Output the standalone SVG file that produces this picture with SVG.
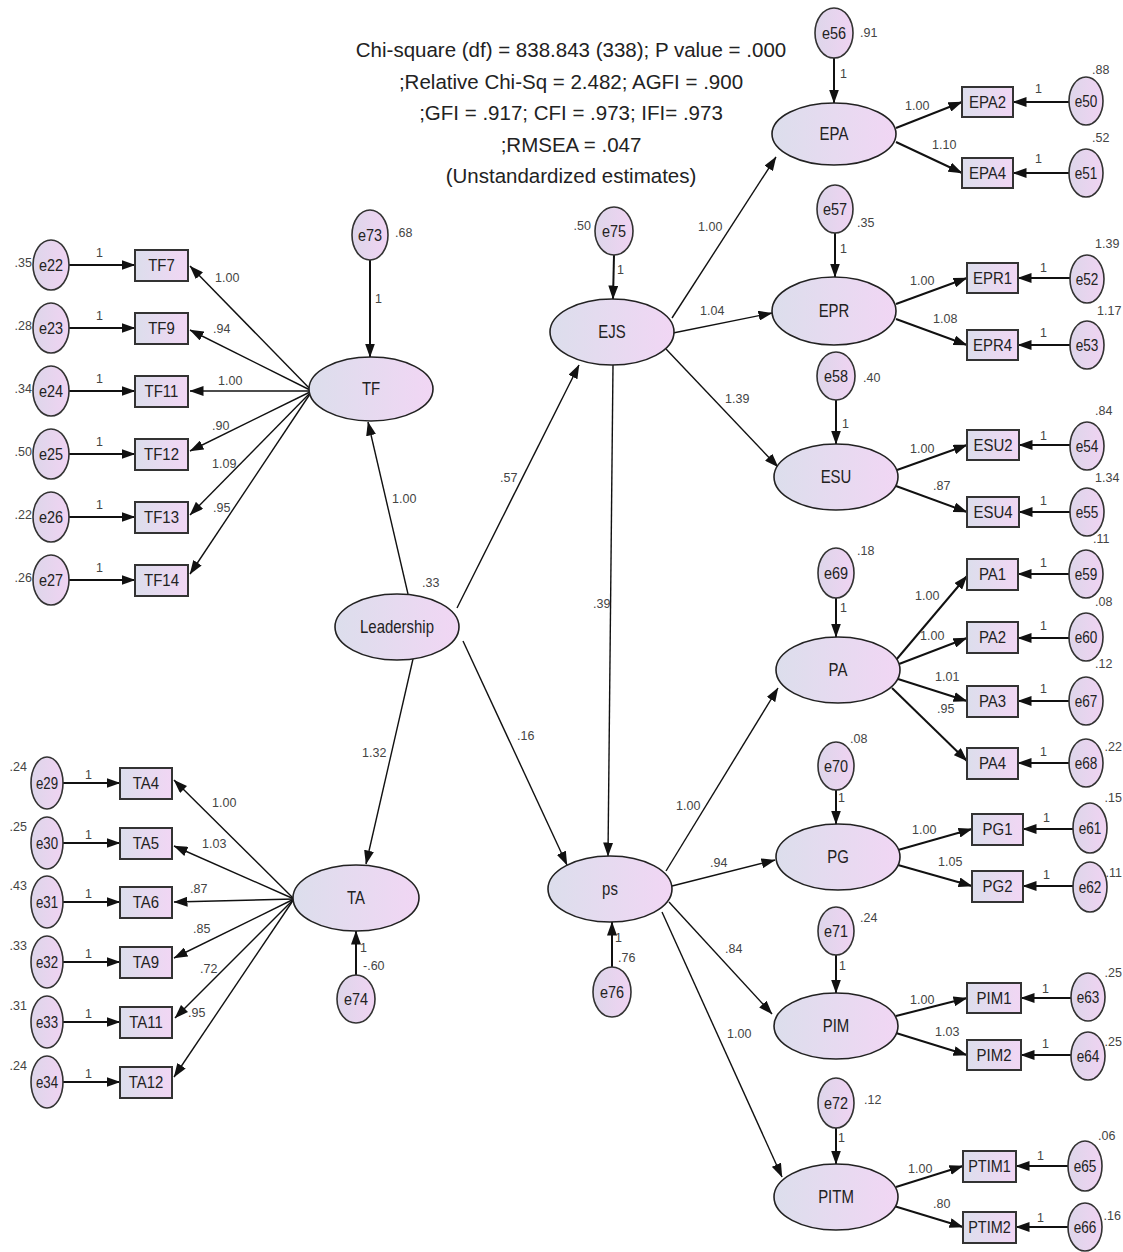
<svg xmlns="http://www.w3.org/2000/svg" width="1123" height="1252" viewBox="0 0 1123 1252">
<defs>
<linearGradient id="g" x1="0" y1="0" x2="1" y2="0">
<stop offset="0" stop-color="#dcdeec"/>
<stop offset="1" stop-color="#f1d6f4"/>
</linearGradient>
<linearGradient id="ge" x1="0" y1="0" x2="1" y2="0">
<stop offset="0" stop-color="#ddd6ea"/>
<stop offset="1" stop-color="#f0d3f2"/>
</linearGradient>
<marker id="ah" markerUnits="userSpaceOnUse" markerWidth="14" markerHeight="10" viewBox="0 0 14 10" refX="13.5" refY="5" orient="auto">
<path d="M0,0 L14,5 L0,10 z" fill="#111"/>
</marker>
<style>
.lat{fill:url(#g);stroke:#222;stroke-width:1.6}
.err{fill:url(#ge);stroke:#333;stroke-width:1.6}
.obs{fill:url(#g);stroke:#333;stroke-width:2}
.nl{font-family:"Liberation Sans",Arial,sans-serif;font-size:18px;text-anchor:middle;fill:#222}
.ol{font-family:"Liberation Sans",Arial,sans-serif;font-size:17px;text-anchor:middle;fill:#222}
.el{font-family:"Liberation Sans",Arial,sans-serif;font-size:17px;text-anchor:middle;fill:#222}
.sl{font-family:"Liberation Sans",Arial,sans-serif;font-size:12.5px;fill:#444}
.sle{font-family:"Liberation Sans",Arial,sans-serif;font-size:12.5px;fill:#444;text-anchor:end}
.tt{font-family:"Liberation Sans",Arial,sans-serif;font-size:20.5px;text-anchor:middle;fill:#222}
.c{stroke:#111;stroke-width:1.4;fill:none;marker-end:url(#ah)}
.ce{stroke:#111;stroke-width:2;fill:none;marker-end:url(#ah)}
</style>
</defs>
<rect width="1123" height="1252" fill="#ffffff"/>

<g id="title">
<text class="tt" x="571" y="57">Chi-square (df) = 838.843 (338);  P value = .000</text>
<text class="tt" x="571" y="88.5">;Relative Chi-Sq = 2.482; AGFI = .900</text>
<text class="tt" x="571" y="120">;GFI = .917; CFI = .973; IFI= .973</text>
<text class="tt" x="571" y="151.5">;RMSEA = .047</text>
<text class="tt" x="571" y="183">(Unstandardized estimates)</text>
</g>

<g id="connectors">
<!-- structural -->
<line class="c" x1="408" y1="594" x2="368" y2="422"/>
<line class="c" x1="457" y1="608" x2="579" y2="365"/>
<line class="c" x1="413" y1="659" x2="366" y2="864"/>
<line class="c" x1="463" y1="641" x2="567" y2="865"/>
<line class="c" x1="613" y1="365" x2="608" y2="856"/>
<line class="c" x1="672" y1="318" x2="776" y2="157"/>
<line class="c" x1="673" y1="333" x2="772" y2="313"/>
<line class="c" x1="666" y1="349" x2="778" y2="467"/>
<line class="c" x1="666" y1="871" x2="778" y2="688"/>
<line class="c" x1="672" y1="886" x2="775" y2="860"/>
<line class="c" x1="669" y1="902" x2="772" y2="1014"/>
<line class="c" x1="662" y1="912" x2="782" y2="1177"/>
<!-- disturbances -->
<line class="ce" x1="370" y1="260" x2="370" y2="357"/>
<line class="ce" x1="614" y1="255" x2="613" y2="299"/>
<line class="ce" x1="356" y1="975" x2="356" y2="931"/>
<line class="ce" x1="612" y1="967" x2="612" y2="922"/>
<line class="ce" x1="834" y1="58" x2="834" y2="103"/>
<line class="ce" x1="835" y1="233" x2="835" y2="277"/>
<line class="ce" x1="836" y1="400" x2="836" y2="444"/>
<line class="ce" x1="836" y1="598" x2="836" y2="637"/>
<line class="ce" x1="836" y1="790" x2="836" y2="824"/>
<line class="ce" x1="836" y1="955" x2="836" y2="993"/>
<line class="ce" x1="836" y1="1128" x2="836" y2="1164"/>
<!-- TF loadings -->
<line class="c" x1="312" y1="391" x2="190" y2="266"/>
<line class="c" x1="312" y1="391" x2="190" y2="330"/>
<line class="c" x1="312" y1="391" x2="190" y2="391"/>
<line class="c" x1="312" y1="391" x2="190" y2="451"/>
<line class="c" x1="312" y1="391" x2="190" y2="515"/>
<line class="c" x1="312" y1="391" x2="190" y2="574"/>
<!-- TF errors -->
<line class="ce" x1="69" y1="265" x2="135" y2="265"/>
<line class="ce" x1="69" y1="328" x2="135" y2="328"/>
<line class="ce" x1="69" y1="391" x2="135" y2="391"/>
<line class="ce" x1="69" y1="454" x2="135" y2="454"/>
<line class="ce" x1="69" y1="517" x2="135" y2="517"/>
<line class="ce" x1="69" y1="580" x2="135" y2="580"/>
<!-- TA loadings -->
<line class="c" x1="294" y1="899" x2="174" y2="780"/>
<line class="c" x1="294" y1="899" x2="174" y2="846"/>
<line class="c" x1="294" y1="899" x2="174" y2="902"/>
<line class="c" x1="294" y1="899" x2="174" y2="958"/>
<line class="c" x1="294" y1="899" x2="175" y2="1018"/>
<line class="c" x1="294" y1="899" x2="174" y2="1077"/>
<!-- TA errors -->
<line class="ce" x1="62" y1="783" x2="120" y2="783"/>
<line class="ce" x1="62" y1="843" x2="120" y2="843"/>
<line class="ce" x1="62" y1="902" x2="120" y2="902"/>
<line class="ce" x1="62" y1="962" x2="120" y2="962"/>
<line class="ce" x1="62" y1="1022" x2="120" y2="1022"/>
<line class="ce" x1="62" y1="1082" x2="120" y2="1082"/>
<!-- EPA -->
<line class="ce" x1="896" y1="128" x2="962" y2="102"/>
<line class="ce" x1="896" y1="142" x2="962" y2="173"/>
<line class="ce" x1="1069" y1="102" x2="1013" y2="102"/>
<line class="ce" x1="1069" y1="173" x2="1013" y2="173"/>
<!-- EPR -->
<line class="ce" x1="896" y1="304" x2="967" y2="278"/>
<line class="ce" x1="896" y1="319" x2="967" y2="345"/>
<line class="ce" x1="1070" y1="278" x2="1018" y2="278"/>
<line class="ce" x1="1070" y1="345" x2="1018" y2="345"/>
<!-- ESU -->
<line class="ce" x1="897" y1="470" x2="967" y2="445"/>
<line class="ce" x1="896" y1="486" x2="967" y2="512"/>
<line class="ce" x1="1070" y1="445" x2="1019" y2="445"/>
<line class="ce" x1="1070" y1="512" x2="1019" y2="512"/>
<!-- PA -->
<line class="ce" x1="896" y1="660" x2="967" y2="576"/>
<line class="ce" x1="899" y1="664" x2="967" y2="638"/>
<line class="ce" x1="898" y1="679" x2="967" y2="701"/>
<line class="ce" x1="892" y1="688" x2="967" y2="761"/>
<line class="ce" x1="1069" y1="574" x2="1018" y2="574"/>
<line class="ce" x1="1069" y1="638" x2="1018" y2="638"/>
<line class="ce" x1="1069" y1="701" x2="1018" y2="701"/>
<line class="ce" x1="1069" y1="763" x2="1018" y2="763"/>
<!-- PG -->
<line class="ce" x1="898" y1="850" x2="972" y2="829"/>
<line class="ce" x1="898" y1="865" x2="972" y2="886"/>
<line class="ce" x1="1073" y1="829" x2="1023" y2="829"/>
<line class="ce" x1="1073" y1="886" x2="1023" y2="886"/>
<!-- PIM -->
<line class="ce" x1="896" y1="1016" x2="967" y2="998"/>
<line class="ce" x1="896" y1="1033" x2="967" y2="1055"/>
<line class="ce" x1="1071" y1="998" x2="1021" y2="998"/>
<line class="ce" x1="1071" y1="1055" x2="1021" y2="1055"/>
<!-- PITM -->
<line class="ce" x1="896" y1="1187" x2="963" y2="1166"/>
<line class="ce" x1="894" y1="1206" x2="963" y2="1227"/>
<line class="ce" x1="1068" y1="1166" x2="1016" y2="1166"/>
<line class="ce" x1="1068" y1="1227" x2="1016" y2="1227"/>

<!-- path labels -->
<text class="sl" x="392" y="503">1.00</text>
<text class="sl" x="422" y="587">.33</text>
<text class="sl" x="500" y="482">.57</text>
<text class="sl" x="362" y="757">1.32</text>
<text class="sl" x="517" y="740">.16</text>
<text class="sl" x="593" y="608">.39</text>
<text class="sl" x="698" y="231">1.00</text>
<text class="sl" x="700" y="315">1.04</text>
<text class="sl" x="725" y="403">1.39</text>
<text class="sl" x="676" y="810">1.00</text>
<text class="sl" x="710" y="867">.94</text>
<text class="sl" x="725" y="953">.84</text>
<text class="sl" x="727" y="1038">1.00</text>
<text class="sl" x="375" y="303">1</text>
<text class="sl" x="617" y="274">1</text>
<text class="sl" x="360" y="952">1</text>
<text class="sl" x="363" y="970">-.60</text>
<text class="sl" x="615" y="942">1</text>
<text class="sl" x="618" y="962">.76</text>
<text class="sl" x="840" y="78">1</text>
<text class="sl" x="840" y="253">1</text>
<text class="sl" x="842" y="428">1</text>
<text class="sl" x="840" y="612">1</text>
<text class="sl" x="838" y="802">1</text>
<text class="sl" x="839" y="970">1</text>
<text class="sl" x="838" y="1142">1</text>
<!-- TF loadings labels -->
<text class="sl" x="215" y="282">1.00</text>
<text class="sl" x="213" y="333">.94</text>
<text class="sl" x="218" y="385">1.00</text>
<text class="sl" x="212" y="430">.90</text>
<text class="sl" x="212" y="468">1.09</text>
<text class="sl" x="213" y="512">.95</text>
<text class="sl" x="96" y="257">1</text>
<text class="sl" x="96" y="320">1</text>
<text class="sl" x="96" y="383">1</text>
<text class="sl" x="96" y="446">1</text>
<text class="sl" x="96" y="509">1</text>
<text class="sl" x="96" y="572">1</text>
<!-- TA loadings labels -->
<text class="sl" x="212" y="807">1.00</text>
<text class="sl" x="202" y="848">1.03</text>
<text class="sl" x="190" y="893">.87</text>
<text class="sl" x="193" y="933">.85</text>
<text class="sl" x="200" y="973">.72</text>
<text class="sl" x="188" y="1017">.95</text>
<text class="sl" x="85" y="779">1</text>
<text class="sl" x="85" y="839">1</text>
<text class="sl" x="85" y="898">1</text>
<text class="sl" x="85" y="958">1</text>
<text class="sl" x="85" y="1018">1</text>
<text class="sl" x="85" y="1078">1</text>
<!-- right loadings labels -->
<text class="sl" x="905" y="110">1.00</text>
<text class="sl" x="932" y="149">1.10</text>
<text class="sl" x="910" y="285">1.00</text>
<text class="sl" x="933" y="323">1.08</text>
<text class="sl" x="910" y="453">1.00</text>
<text class="sl" x="933" y="490">.87</text>
<text class="sl" x="915" y="600">1.00</text>
<text class="sl" x="920" y="640">1.00</text>
<text class="sl" x="935" y="681">1.01</text>
<text class="sl" x="937" y="713">.95</text>
<text class="sl" x="912" y="834">1.00</text>
<text class="sl" x="938" y="866">1.05</text>
<text class="sl" x="910" y="1004">1.00</text>
<text class="sl" x="935" y="1036">1.03</text>
<text class="sl" x="908" y="1173">1.00</text>
<text class="sl" x="933" y="1208">.80</text>
<text class="sl" x="1035" y="93">1</text>
<text class="sl" x="1035" y="163">1</text>
<text class="sl" x="1040" y="272">1</text>
<text class="sl" x="1040" y="337">1</text>
<text class="sl" x="1040" y="440">1</text>
<text class="sl" x="1040" y="505">1</text>
<text class="sl" x="1040" y="567">1</text>
<text class="sl" x="1040" y="630">1</text>
<text class="sl" x="1040" y="693">1</text>
<text class="sl" x="1040" y="756">1</text>
<text class="sl" x="1043" y="822">1</text>
<text class="sl" x="1043" y="879">1</text>
<text class="sl" x="1042" y="993">1</text>
<text class="sl" x="1042" y="1048">1</text>
<text class="sl" x="1037" y="1160">1</text>
<text class="sl" x="1037" y="1222">1</text>
</g>

<!-- latent nodes -->
<g id="n-TF"><ellipse class="lat" cx="371" cy="389" rx="62" ry="32"/><text class="nl" transform="translate(371,395) scale(.83,1)">TF</text></g>
<g id="n-Leadership"><ellipse class="lat" cx="397" cy="627" rx="62" ry="33"/><text class="nl" transform="translate(397,633) scale(.83,1)">Leadership</text></g>
<g id="n-TA"><ellipse class="lat" cx="356" cy="898" rx="63" ry="33"/><text class="nl" transform="translate(356,904) scale(.83,1)">TA</text></g>
<g id="n-EJS"><ellipse class="lat" cx="612" cy="332" rx="62" ry="33"/><text class="nl" transform="translate(612,338) scale(.83,1)">EJS</text></g>
<g id="n-ps"><ellipse class="lat" cx="610" cy="889" rx="62" ry="33"/><text class="nl" transform="translate(610,895) scale(.83,1)">ps</text></g>
<g id="n-EPA"><ellipse class="lat" cx="834" cy="134" rx="62" ry="31"/><text class="nl" transform="translate(834,140) scale(.83,1)">EPA</text></g>
<g id="n-EPR"><ellipse class="lat" cx="834" cy="311" rx="62" ry="34"/><text class="nl" transform="translate(834,317) scale(.83,1)">EPR</text></g>
<g id="n-ESU"><ellipse class="lat" cx="836" cy="477" rx="62" ry="33"/><text class="nl" transform="translate(836,483) scale(.83,1)">ESU</text></g>
<g id="n-PA"><ellipse class="lat" cx="838" cy="670" rx="62" ry="33"/><text class="nl" transform="translate(838,676) scale(.83,1)">PA</text></g>
<g id="n-PG"><ellipse class="lat" cx="838" cy="857" rx="62" ry="33"/><text class="nl" transform="translate(838,863) scale(.83,1)">PG</text></g>
<g id="n-PIM"><ellipse class="lat" cx="836" cy="1026" rx="62" ry="33"/><text class="nl" transform="translate(836,1032) scale(.83,1)">PIM</text></g>
<g id="n-PITM"><ellipse class="lat" cx="836" cy="1197" rx="62" ry="33"/><text class="nl" transform="translate(836,1203) scale(.83,1)">PITM</text></g>

<!-- disturbance/error for latents -->
<g id="n-e73"><ellipse class="err" cx="370" cy="235" rx="18" ry="25"/><text class="el" transform="translate(370,241) scale(.85,1)">e73</text><text class="sl" x="395" y="237">.68</text></g>
<g id="n-e75"><ellipse class="err" cx="614" cy="231" rx="19" ry="24"/><text class="el" transform="translate(614,237) scale(.85,1)">e75</text><text class="sle" x="591" y="230">.50</text></g>
<g id="n-e74"><ellipse class="err" cx="356" cy="999" rx="19" ry="24"/><text class="el" transform="translate(356,1005) scale(.85,1)">e74</text></g>
<g id="n-e76"><ellipse class="err" cx="612" cy="992" rx="19" ry="25"/><text class="el" transform="translate(612,998) scale(.85,1)">e76</text></g>
<g id="n-e56"><ellipse class="err" cx="834" cy="33" rx="19" ry="25"/><text class="el" transform="translate(834,39) scale(.85,1)">e56</text><text class="sl" x="860" y="37">.91</text></g>
<g id="n-e57"><ellipse class="err" cx="835" cy="209" rx="18" ry="24"/><text class="el" transform="translate(835,215) scale(.85,1)">e57</text><text class="sl" x="857" y="227">.35</text></g>
<g id="n-e58"><ellipse class="err" cx="836" cy="376" rx="19" ry="24"/><text class="el" transform="translate(836,382) scale(.85,1)">e58</text><text class="sl" x="863" y="382">.40</text></g>
<g id="n-e69"><ellipse class="err" cx="836" cy="573" rx="18" ry="25"/><text class="el" transform="translate(836,579) scale(.85,1)">e69</text><text class="sl" x="857" y="555">.18</text></g>
<g id="n-e70"><ellipse class="err" cx="836" cy="766" rx="18" ry="24"/><text class="el" transform="translate(836,772) scale(.85,1)">e70</text><text class="sl" x="850" y="743">.08</text></g>
<g id="n-e71"><ellipse class="err" cx="836" cy="931" rx="18" ry="24"/><text class="el" transform="translate(836,937) scale(.85,1)">e71</text><text class="sl" x="860" y="922">.24</text></g>
<g id="n-e72"><ellipse class="err" cx="836" cy="1103" rx="18" ry="25"/><text class="el" transform="translate(836,1109) scale(.85,1)">e72</text><text class="sl" x="864" y="1104">.12</text></g>

<!-- TF indicators -->
<g id="n-TF7"><rect class="obs" x="135" y="250" width="53" height="31"/><text class="ol" transform="translate(161.5,271) scale(.88,1)">TF7</text></g>
<g id="n-TF9"><rect class="obs" x="135" y="313" width="53" height="31"/><text class="ol" transform="translate(161.5,334) scale(.88,1)">TF9</text></g>
<g id="n-TF11"><rect class="obs" x="135" y="376" width="53" height="31"/><text class="ol" transform="translate(161.5,397) scale(.88,1)">TF11</text></g>
<g id="n-TF12"><rect class="obs" x="135" y="439" width="53" height="31"/><text class="ol" transform="translate(161.5,460) scale(.88,1)">TF12</text></g>
<g id="n-TF13"><rect class="obs" x="135" y="502" width="53" height="31"/><text class="ol" transform="translate(161.5,523) scale(.88,1)">TF13</text></g>
<g id="n-TF14"><rect class="obs" x="135" y="565" width="53" height="31"/><text class="ol" transform="translate(161.5,586) scale(.88,1)">TF14</text></g>
<g id="n-e22"><ellipse class="err" cx="51" cy="265" rx="18" ry="25"/><text class="el" transform="translate(51,271) scale(.85,1)">e22</text><text class="sle" x="32" y="267">.35</text></g>
<g id="n-e23"><ellipse class="err" cx="51" cy="328" rx="18" ry="25"/><text class="el" transform="translate(51,334) scale(.85,1)">e23</text><text class="sle" x="32" y="330">.28</text></g>
<g id="n-e24"><ellipse class="err" cx="51" cy="391" rx="18" ry="25"/><text class="el" transform="translate(51,397) scale(.85,1)">e24</text><text class="sle" x="32" y="393">.34</text></g>
<g id="n-e25"><ellipse class="err" cx="51" cy="454" rx="18" ry="25"/><text class="el" transform="translate(51,460) scale(.85,1)">e25</text><text class="sle" x="32" y="456">.50</text></g>
<g id="n-e26"><ellipse class="err" cx="51" cy="517" rx="18" ry="25"/><text class="el" transform="translate(51,523) scale(.85,1)">e26</text><text class="sle" x="32" y="519">.22</text></g>
<g id="n-e27"><ellipse class="err" cx="51" cy="580" rx="18" ry="25"/><text class="el" transform="translate(51,586) scale(.85,1)">e27</text><text class="sle" x="32" y="582">.26</text></g>

<!-- TA indicators -->
<g id="n-TA4"><rect class="obs" x="120" y="768" width="52" height="31"/><text class="ol" transform="translate(146,789) scale(.88,1)">TA4</text></g>
<g id="n-TA5"><rect class="obs" x="120" y="828" width="52" height="31"/><text class="ol" transform="translate(146,849) scale(.88,1)">TA5</text></g>
<g id="n-TA6"><rect class="obs" x="120" y="887" width="52" height="31"/><text class="ol" transform="translate(146,908) scale(.88,1)">TA6</text></g>
<g id="n-TA9"><rect class="obs" x="120" y="947" width="52" height="31"/><text class="ol" transform="translate(146,968) scale(.88,1)">TA9</text></g>
<g id="n-TA11"><rect class="obs" x="120" y="1007" width="52" height="31"/><text class="ol" transform="translate(146,1028) scale(.88,1)">TA11</text></g>
<g id="n-TA12"><rect class="obs" x="120" y="1067" width="52" height="31"/><text class="ol" transform="translate(146,1088) scale(.88,1)">TA12</text></g>
<g id="n-e29"><ellipse class="err" cx="47" cy="783" rx="16" ry="26"/><text class="el" transform="translate(47,789) scale(.78,1)">e29</text><text class="sle" x="27" y="771">.24</text></g>
<g id="n-e30"><ellipse class="err" cx="47" cy="843" rx="16" ry="26"/><text class="el" transform="translate(47,849) scale(.78,1)">e30</text><text class="sle" x="27" y="831">.25</text></g>
<g id="n-e31"><ellipse class="err" cx="47" cy="902" rx="16" ry="26"/><text class="el" transform="translate(47,908) scale(.78,1)">e31</text><text class="sle" x="27" y="890">.43</text></g>
<g id="n-e32"><ellipse class="err" cx="47" cy="962" rx="16" ry="26"/><text class="el" transform="translate(47,968) scale(.78,1)">e32</text><text class="sle" x="27" y="950">.33</text></g>
<g id="n-e33"><ellipse class="err" cx="47" cy="1022" rx="16" ry="26"/><text class="el" transform="translate(47,1028) scale(.78,1)">e33</text><text class="sle" x="27" y="1010">.31</text></g>
<g id="n-e34"><ellipse class="err" cx="47" cy="1082" rx="16" ry="26"/><text class="el" transform="translate(47,1088) scale(.78,1)">e34</text><text class="sle" x="27" y="1070">.24</text></g>

<!-- EPA indicators -->
<g id="n-EPA2"><rect class="obs" x="962" y="87" width="51" height="30"/><text class="ol" transform="translate(987.5,108) scale(.88,1)">EPA2</text></g>
<g id="n-EPA4"><rect class="obs" x="962" y="158" width="51" height="30"/><text class="ol" transform="translate(987.5,179) scale(.88,1)">EPA4</text></g>
<g id="n-e50"><ellipse class="err" cx="1086" cy="101" rx="17" ry="24"/><text class="el" transform="translate(1086,107) scale(.8,1)">e50</text><text class="sl" x="1092" y="74">.88</text></g>
<g id="n-e51"><ellipse class="err" cx="1086" cy="173" rx="17" ry="24"/><text class="el" transform="translate(1086,179) scale(.8,1)">e51</text><text class="sl" x="1092" y="142">.52</text></g>

<!-- EPR indicators -->
<g id="n-EPR1"><rect class="obs" x="967" y="263" width="51" height="30"/><text class="ol" transform="translate(992.5,284) scale(.88,1)">EPR1</text></g>
<g id="n-EPR4"><rect class="obs" x="967" y="330" width="51" height="30"/><text class="ol" transform="translate(992.5,351) scale(.88,1)">EPR4</text></g>
<g id="n-e52"><ellipse class="err" cx="1087" cy="279" rx="17" ry="24"/><text class="el" transform="translate(1087,285) scale(.8,1)">e52</text><text class="sl" x="1095" y="248">1.39</text></g>
<g id="n-e53"><ellipse class="err" cx="1087" cy="345" rx="17" ry="24"/><text class="el" transform="translate(1087,351) scale(.8,1)">e53</text><text class="sl" x="1097" y="315">1.17</text></g>

<!-- ESU indicators -->
<g id="n-ESU2"><rect class="obs" x="967" y="430" width="52" height="30"/><text class="ol" transform="translate(993,451) scale(.88,1)">ESU2</text></g>
<g id="n-ESU4"><rect class="obs" x="967" y="497" width="52" height="30"/><text class="ol" transform="translate(993,518) scale(.88,1)">ESU4</text></g>
<g id="n-e54"><ellipse class="err" cx="1087" cy="446" rx="17" ry="24"/><text class="el" transform="translate(1087,452) scale(.8,1)">e54</text><text class="sl" x="1095" y="415">.84</text></g>
<g id="n-e55"><ellipse class="err" cx="1087" cy="512" rx="17" ry="24"/><text class="el" transform="translate(1087,518) scale(.8,1)">e55</text><text class="sl" x="1095" y="482">1.34</text></g>

<!-- PA indicators -->
<g id="n-PA1"><rect class="obs" x="967" y="559" width="51" height="31"/><text class="ol" transform="translate(992.5,580) scale(.88,1)">PA1</text></g>
<g id="n-PA2"><rect class="obs" x="967" y="622" width="51" height="31"/><text class="ol" transform="translate(992.5,643) scale(.88,1)">PA2</text></g>
<g id="n-PA3"><rect class="obs" x="967" y="686" width="51" height="31"/><text class="ol" transform="translate(992.5,707) scale(.88,1)">PA3</text></g>
<g id="n-PA4"><rect class="obs" x="967" y="748" width="51" height="31"/><text class="ol" transform="translate(992.5,769) scale(.88,1)">PA4</text></g>
<g id="n-e59"><ellipse class="err" cx="1086" cy="574" rx="17" ry="24"/><text class="el" transform="translate(1086,580) scale(.8,1)">e59</text><text class="sl" x="1093" y="543">.11</text></g>
<g id="n-e60"><ellipse class="err" cx="1086" cy="637" rx="17" ry="24"/><text class="el" transform="translate(1086,643) scale(.8,1)">e60</text><text class="sl" x="1095" y="606">.08</text></g>
<g id="n-e67"><ellipse class="err" cx="1086" cy="701" rx="17" ry="24"/><text class="el" transform="translate(1086,707) scale(.8,1)">e67</text><text class="sl" x="1095" y="668">.12</text></g>
<g id="n-e68"><ellipse class="err" cx="1086" cy="763" rx="17" ry="24"/><text class="el" transform="translate(1086,769) scale(.8,1)">e68</text><text class="sle" x="1122" y="751">.22</text></g>

<!-- PG indicators -->
<g id="n-PG1"><rect class="obs" x="972" y="814" width="51" height="31"/><text class="ol" transform="translate(997.5,835) scale(.88,1)">PG1</text></g>
<g id="n-PG2"><rect class="obs" x="972" y="871" width="51" height="31"/><text class="ol" transform="translate(997.5,892) scale(.88,1)">PG2</text></g>
<g id="n-e61"><ellipse class="err" cx="1090" cy="828" rx="17" ry="25"/><text class="el" transform="translate(1090,834) scale(.8,1)">e61</text><text class="sle" x="1122" y="802">.15</text></g>
<g id="n-e62"><ellipse class="err" cx="1090" cy="887" rx="17" ry="25"/><text class="el" transform="translate(1090,893) scale(.8,1)">e62</text><text class="sle" x="1122" y="877">.11</text></g>

<!-- PIM indicators -->
<g id="n-PIM1"><rect class="obs" x="967" y="983" width="54" height="30"/><text class="ol" transform="translate(994,1004) scale(.88,1)">PIM1</text></g>
<g id="n-PIM2"><rect class="obs" x="967" y="1040" width="54" height="30"/><text class="ol" transform="translate(994,1061) scale(.88,1)">PIM2</text></g>
<g id="n-e63"><ellipse class="err" cx="1088" cy="997" rx="17" ry="24"/><text class="el" transform="translate(1088,1003) scale(.8,1)">e63</text><text class="sle" x="1122" y="977">.25</text></g>
<g id="n-e64"><ellipse class="err" cx="1088" cy="1056" rx="17" ry="24"/><text class="el" transform="translate(1088,1062) scale(.8,1)">e64</text><text class="sle" x="1122" y="1046">.25</text></g>

<!-- PITM indicators -->
<g id="n-PTIM1"><rect class="obs" x="963" y="1151" width="53" height="31"/><text class="ol" transform="translate(989.5,1172) scale(.85,1)">PTIM1</text></g>
<g id="n-PTIM2"><rect class="obs" x="963" y="1212" width="53" height="31"/><text class="ol" transform="translate(989.5,1233) scale(.85,1)">PTIM2</text></g>
<g id="n-e65"><ellipse class="err" cx="1085" cy="1166" rx="17" ry="25"/><text class="el" transform="translate(1085,1172) scale(.8,1)">e65</text><text class="sl" x="1098" y="1140">.06</text></g>
<g id="n-e66"><ellipse class="err" cx="1085" cy="1227" rx="17" ry="24"/><text class="el" transform="translate(1085,1233) scale(.8,1)">e66</text><text class="sle" x="1121" y="1220">.16</text></g>
</svg>
